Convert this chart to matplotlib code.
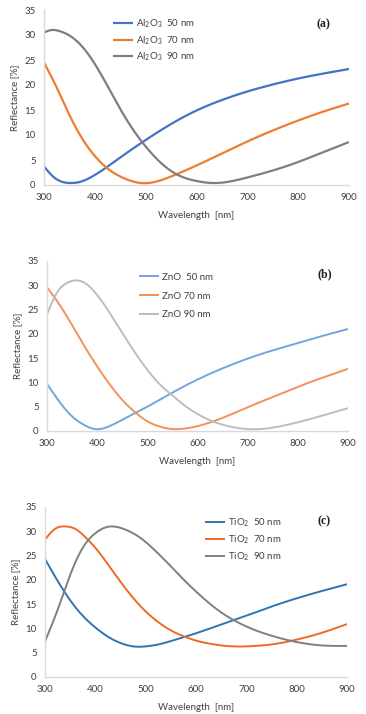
import matplotlib
matplotlib.use("Agg")
import matplotlib.pyplot as plt
import numpy as np

plt.rcParams['font.family'] = ['Lato', 'DejaVu Sans']
plt.rcParams['mathtext.default'] = 'regular'

# ---- Panel (a): Al2O3 ----
wl_a50 = [300, 320, 350, 370, 400, 450, 500, 550, 600, 650, 700, 750, 800, 850, 900]
al_50 = [3.7, 1.5, 0.4, 0.6, 2.0, 5.5, 9.0, 12.2, 14.9, 17.0, 18.7, 20.1, 21.3, 22.3, 23.2]
wl_a70 = [300, 325, 350, 375, 400, 425, 450, 475, 490, 525, 550, 600, 650, 700, 750, 800, 850, 900]
al_70 = [24.5, 19.5, 14.0, 9.3, 5.8, 3.3, 1.7, 0.7, 0.4, 0.8, 1.7, 3.9, 6.3, 8.7, 10.9, 12.9, 14.7, 16.3]
wl_a90 = [300, 315, 330, 350, 375, 400, 425, 450, 475, 500, 525, 550, 575, 600, 630, 660, 700, 750, 800, 850, 900]
al_90 = [30.5, 31.0, 30.8, 29.9, 27.7, 24.2, 19.8, 15.2, 11.1, 7.7, 4.9, 2.8, 1.5, 0.8, 0.4, 0.6, 1.5, 2.9, 4.6, 6.6, 8.6]

# ---- Panel (b): ZnO ----
wl_b50 = [300, 325, 350, 375, 395, 420, 450, 500, 550, 600, 650, 700, 750, 800, 850, 900]
zn_50 = [9.7, 6.0, 3.0, 1.2, 0.4, 0.8, 2.3, 5.0, 7.9, 10.6, 12.9, 14.9, 16.6, 18.1, 19.6, 21.0]
wl_b70 = [300, 325, 350, 375, 400, 425, 450, 475, 500, 525, 550, 575, 600, 650, 700, 750, 800, 850, 900]
zn_70 = [29.6, 26.0, 21.8, 17.4, 13.3, 9.6, 6.4, 3.9, 2.0, 0.9, 0.4, 0.5, 1.0, 2.7, 4.9, 7.0, 9.1, 11.0, 12.8]
wl_b90 = [300, 320, 340, 355, 375, 400, 425, 450, 475, 500, 525, 550, 575, 600, 625, 650, 700, 725, 750, 800, 850, 900]
zn_90 = [24.0, 28.5, 30.5, 31.0, 30.5, 28.0, 24.3, 20.2, 16.2, 12.6, 9.6, 7.3, 5.2, 3.5, 2.2, 1.3, 0.4, 0.4, 0.7, 1.8, 3.2, 4.7]

# ---- Panel (c): TiO2 ----
wl_c50 = [300, 325, 350, 375, 400, 425, 450, 475, 500, 525, 550, 600, 650, 700, 750, 800, 850, 900]
ti_50 = [24.3, 19.8, 15.8, 12.6, 10.2, 8.3, 7.0, 6.3, 6.3, 6.7, 7.4, 9.0, 10.8, 12.6, 14.5, 16.2, 17.7, 19.1]
wl_c70 = [300, 320, 340, 360, 380, 400, 425, 450, 475, 500, 525, 550, 575, 600, 625, 650, 675, 700, 725, 750, 800, 850, 900]
ti_70 = [28.3, 30.5, 31.0, 30.5, 28.8, 26.6, 23.2, 19.6, 16.3, 13.5, 11.3, 9.6, 8.4, 7.5, 6.9, 6.5, 6.3, 6.3, 6.45, 6.7, 7.7, 9.1, 10.9]
wl_c90 = [300, 325, 350, 375, 400, 430, 450, 475, 500, 525, 550, 575, 600, 625, 650, 675, 700, 750, 800, 850, 900]
ti_90 = [7.3, 13.8, 21.0, 26.6, 29.6, 31.0, 30.7, 29.6, 27.8, 25.4, 22.8, 20.1, 17.6, 15.3, 13.3, 11.7, 10.4, 8.5, 7.2, 6.5, 6.4]

x_ticks = [300, 400, 500, 600, 700, 800, 900]
y_ticks = [0, 5, 10, 15, 20, 25, 30, 35]


def smooth(x, y, n=400):
    """Natural cubic spline through the read-off points."""
    x = np.asarray(x, float)
    y = np.asarray(y, float)
    N = len(x)
    h = np.diff(x)
    A = np.zeros((N, N))
    b = np.zeros(N)
    A[0, 0] = 1
    A[-1, -1] = 1
    for i in range(1, N - 1):
        A[i, i - 1] = h[i - 1]
        A[i, i] = 2 * (h[i - 1] + h[i])
        A[i, i + 1] = h[i]
        b[i] = 6 * ((y[i + 1] - y[i]) / h[i] - (y[i] - y[i - 1]) / h[i - 1])
    M = np.linalg.solve(A, b)
    xs = np.linspace(x[0], x[-1], n)
    idx = np.clip(np.searchsorted(x, xs) - 1, 0, N - 2)
    hi = h[idx]
    a = (x[idx + 1] - xs)
    c = (xs - x[idx])
    ys = (M[idx] * a**3 / (6 * hi) + M[idx + 1] * c**3 / (6 * hi)
          + (y[idx] / hi - M[idx] * hi / 6) * a + (y[idx + 1] / hi - M[idx + 1] * hi / 6) * c)
    return xs, ys


fig = plt.figure(figsize=(3.66, 7.14), dpi=100)

panels = [
    dict(rect=[44 / 366, 1 - 185 / 714, 305 / 366, 175 / 714],
         series=[(wl_a50, al_50, 'Al$_2$O$_3$  50 nm', '#4472C4'),
                 (wl_a70, al_70, 'Al$_2$O$_3$  70 nm', '#ED7D31'),
                 (wl_a90, al_90, 'Al$_2$O$_3$  90 nm', '#7F7F7F')],
         tag='(a)', leg=(0.225, 0.955), ls=0.4, tagpos=(0.915, 0.92), lw=1.6),
    dict(rect=[47 / 366, 1 - 431 / 714, 301 / 366, 170 / 714],
         series=[(wl_b50, zn_50, 'ZnO  50 nm', '#72A6DB'),
                 (wl_b70, zn_70, 'ZnO 70 nm', '#F0925A'),
                 (wl_b90, zn_90, 'ZnO 90 nm', '#BDBDBD')],
         tag='(b)', leg=(0.305, 0.93), ls=1.0, tagpos=(0.922, 0.92), lw=1.4),
    dict(rect=[45 / 366, 1 - 677 / 714, 302 / 366, 170 / 714],
         series=[(wl_c50, ti_50, 'TiO$_2$  50 nm', '#2E75B6'),
                 (wl_c70, ti_70, 'TiO$_2$  70 nm', '#EE6A24'),
                 (wl_c90, ti_90, 'TiO$_2$  90 nm', '#7F7F7F')],
         tag='(c)', leg=(0.53, 0.945), ls=0.45, tagpos=(0.925, 0.915), lw=1.4),
]

for p in panels:
    ax = fig.add_axes(p['rect'])
    for xs, ys, lab, col in p['series']:
        sx, sy = smooth(xs, ys)
        ax.plot(sx, sy, color=col, lw=p['lw'], label=lab, solid_capstyle='butt')
    ax.set_xlim(300, 900)
    ax.set_ylim(0, 35)
    ax.set_xticks(x_ticks)
    ax.set_yticks(y_ticks)
    ax.tick_params(length=0, labelsize=7, colors='#404040', pad=6)
    for s in ['top', 'right']:
        ax.spines[s].set_visible(False)
    for s in ['left', 'bottom']:
        ax.spines[s].set_color('#D9D9D9')
        ax.spines[s].set_linewidth(1.0)
    ax.set_xlabel('Wavelength  [nm]', fontsize=7, color='#404040', labelpad=6)
    ax.set_ylabel('Reflectance [%]', fontsize=7, color='#404040', labelpad=4)
    ax.legend(loc='upper left', bbox_to_anchor=p['leg'], frameon=False, fontsize=7,
              handlelength=2.1, handletextpad=0.3, labelspacing=p['ls'],
              borderpad=0, borderaxespad=0, labelcolor='#404040')
    ax.text(p['tagpos'][0], p['tagpos'][1], p['tag'], transform=ax.transAxes,
            fontsize=8.5, fontweight='bold', family='Liberation Serif',
            ha='center', va='center', color='#202020')

fig.savefig('out.png', dpi=100)
